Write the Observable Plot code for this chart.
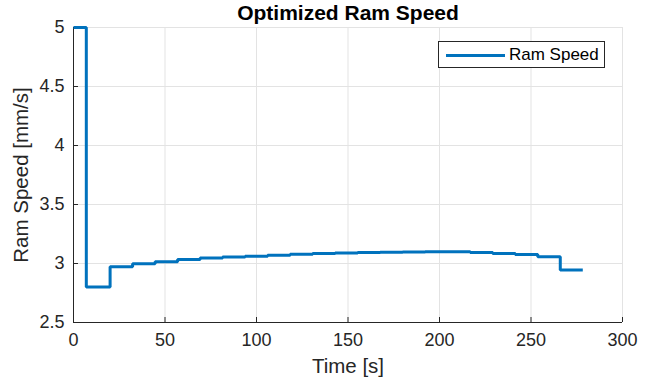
<!DOCTYPE html>
<html><head><meta charset="utf-8">
<script src="https://cdn.jsdelivr.net/npm/d3@7"></script>
<script src="https://cdn.jsdelivr.net/npm/@observablehq/plot@0.6"></script>
<style>
body{margin:0;background:#fff;font-family:"Liberation Sans",Arial,Helvetica,sans-serif}
#wrap{position:relative;width:662px;height:385px;overflow:hidden}
.legend{position:absolute;left:438px;top:41px;width:167px;height:27px;border:1px solid #262626;background:#fff;box-sizing:border-box}
.legend svg{position:absolute;left:0;top:0}
.legend span{position:absolute;left:70px;top:3px;font-size:17px;color:#000;line-height:19px;white-space:nowrap}
</style></head><body><div id="wrap"></div>
<script>
// Step start times [s] and ram speed [mm/s] held until the next step
const stepTimes = [0, 7, 20, 32.3, 44.6, 56.9, 69.2, 81.5, 93.8, 106.1, 118.4, 130.7, 143, 155.3, 167.6, 179.9, 192.2, 204.5, 216.8, 229.1, 241.4, 253.7, 266];
const ramSpeed  = [5, 2.8, 2.972, 2.997, 3.014, 3.034, 3.047, 3.055, 3.062, 3.07, 3.078, 3.084, 3.089, 3.093, 3.096, 3.098, 3.1, 3.099, 3.093, 3.084, 3.077, 3.058, 2.945];
const endTime = 278.3;
const xTicks = [0, 50, 100, 150, 200, 250, 300];
const yTicks = [2.5, 3, 3.5, 4, 4.5, 5];
const titleText = "Optimized Ram Speed";
const xLabel = "Time [s]";
const yLabel = "Ram Speed [mm/s]";
const seriesName = "Ram Speed";

const data = stepTimes.map((t, i) => ({t, v: ramSpeed[i]}))
  .concat([{t: endTime, v: ramSpeed[ramSpeed.length - 1]}]);

const fmt = d => String(d);
const axisColor = "#262626";
const gridColor = "#e3e3e3";

const chart = Plot.plot({
  width: 662, height: 385,
  marginLeft: 73, marginRight: 40, marginTop: 27, marginBottom: 63,
  style: {fontFamily: '"Liberation Sans", Arial, Helvetica, sans-serif', fontSize: "18px", color: axisColor, background: "#fff"},
  x: {domain: [0, 300]},
  y: {domain: [2.5, 5]},
  marks: [
    Plot.gridX(xTicks, {stroke: gridColor, strokeOpacity: 1}),
    Plot.gridY(yTicks, {stroke: gridColor, strokeOpacity: 1}),
    Plot.axisX(xTicks, {tickSize: -5, tickPadding: 16, label: null, tickFormat: fmt, fontSize: 18, stroke: axisColor, fill: axisColor}),
    Plot.axisY(yTicks, {tickSize: -5, tickPadding: 14, label: null, tickFormat: fmt, fontSize: 18, stroke: axisColor, fill: axisColor}),
    Plot.ruleX([0], {stroke: axisColor}),
    Plot.ruleY([2.5], {stroke: axisColor}),
    Plot.line(data, {x: "t", y: "v", curve: "step-after", stroke: "#0072BD", strokeWidth: 3, strokeLinejoin: "miter", strokeLinecap: "butt"}),
    Plot.text([titleText], {frameAnchor: "top", lineAnchor: "middle", textAnchor: "middle", dy: -14, fontWeight: "bold", fontSize: 21, fill: "#000"}),
    Plot.text([xLabel], {frameAnchor: "bottom", lineAnchor: "middle", textAnchor: "middle", dy: 44, fontSize: 20.5, fill: axisColor}),
    Plot.text([yLabel], {frameAnchor: "left", lineAnchor: "middle", textAnchor: "middle", dx: -52, rotate: -90, fontSize: 20.5, fill: axisColor})
  ]
});

const wrap = document.getElementById("wrap");
wrap.appendChild(chart);
const leg = document.createElement("div");
leg.className = "legend";
leg.innerHTML = '<svg width="167" height="27"><line x1="7" x2="66" y1="13.5" y2="13.5" stroke="#0072BD" stroke-width="3"/></svg><span></span>';
leg.querySelector("span").textContent = seriesName;
wrap.appendChild(leg);
</script>
</body></html>
